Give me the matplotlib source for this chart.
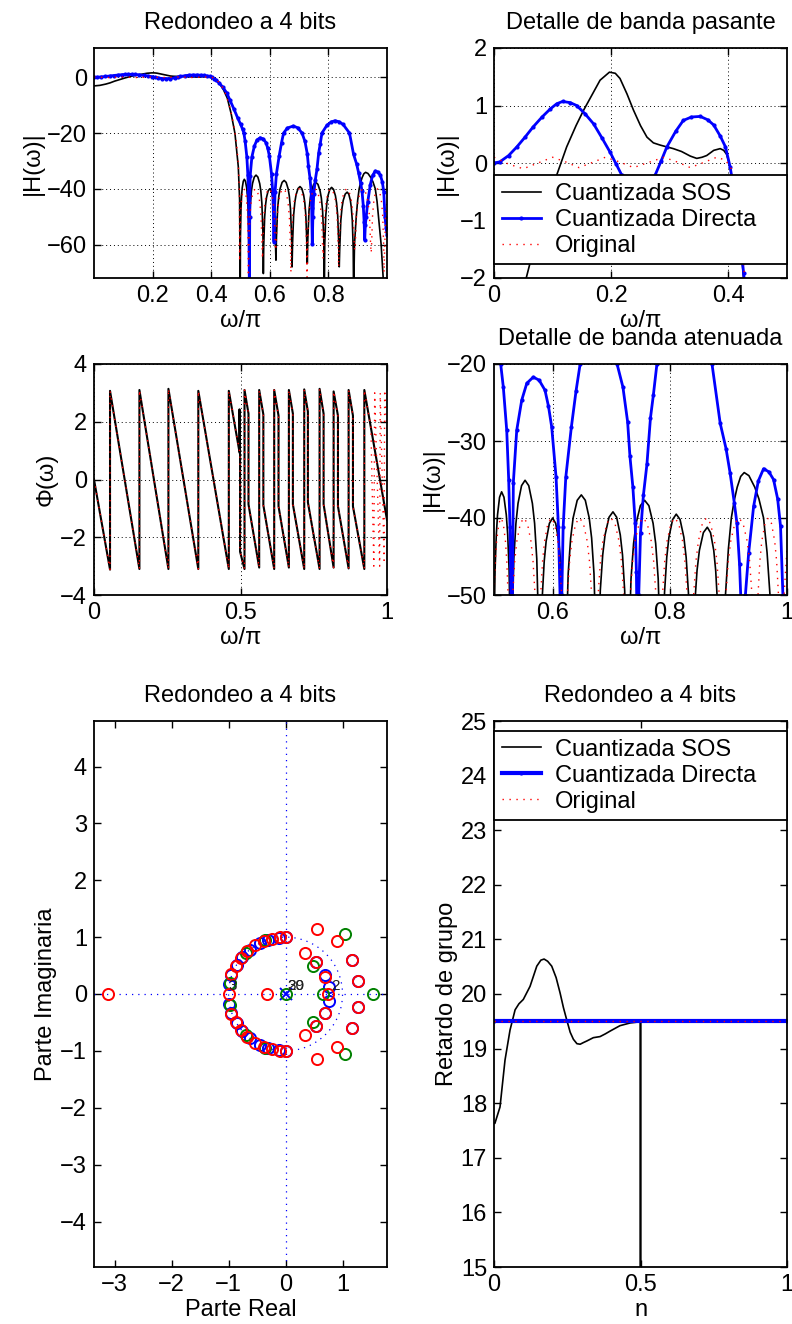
import matplotlib
matplotlib.use('Agg')
import matplotlib.pyplot as plt
from matplotlib.patches import Circle

plt.rcParams['font.family'] = ['Liberation Sans', 'DejaVu Sans']
plt.rcParams['axes.unicode_minus'] = True

FS = 17

# ---------------- data ----------------
LABELS = ['Cuantizada SOS', 'Cuantizada Directa', 'Original']

# magnitude (dB) vs w/pi
MAG_SOS = [(0.000,-3.10),(0.020,-2.90),(0.040,-2.45),(0.055,-2.00),(0.070,-1.40),(0.090,-0.75),
           (0.107,-0.21),(0.124,0.28),(0.140,0.65),(0.153,0.92),(0.168,1.20),(0.181,1.44),(0.197,1.58),
           (0.207,1.56),(0.215,1.47),(0.227,1.20),(0.238,0.92),(0.250,0.65),(0.261,0.45),(0.272,0.35),
           (0.284,0.31),(0.306,0.25),(0.320,0.20),(0.335,0.12),(0.346,0.08),(0.355,0.10),(0.363,0.13),
           (0.375,0.22),(0.386,0.25),(0.392,0.22),(0.397,0.15),(0.403,-0.07),(0.410,-0.50),(0.420,-1.30),
           (0.430,-2.50),(0.442,-4.50),(0.455,-7.50),(0.468,-13.0),(0.481,-20.1),(0.4925,-32.1),(0.497,-44.0),
           (0.499,-80.0),
           (0.4998,-57.1),(0.5018,-46.8),(0.5039,-42.2),(0.506,-39.6),(0.5095,-37.3),(0.513,-36.6),(0.517,-37.3),
           (0.521,-39.6),(0.5234,-42.2),(0.5258,-46.8),(0.528,-57.1),(0.529,-80.0),
           (0.5304,-55.6),(0.5338,-45.3),(0.5374,-40.7),(0.541,-38.1),(0.547,-35.8),(0.553,-35.1),(0.5593,-35.8),
           (0.5655,-38.1),(0.5693,-40.7),(0.573,-45.3),(0.5765,-55.6),(0.578,-70.4),
           (0.5793,-60.5),(0.5824,-50.2),(0.5857,-45.6),(0.589,-43.0),(0.5945,-40.7),(0.600,-40.0),(0.6053,-40.7),
           (0.6105,-43.0),(0.6137,-45.6),(0.6168,-50.2),(0.6197,-60.5),(0.621,-65.6),
           (0.6227,-57.5),(0.6266,-47.2),(0.6308,-42.6),(0.635,-40.0),(0.642,-37.7),(0.649,-37.0),(0.6558,-37.7),
           (0.6625,-40.0),(0.6666,-42.6),(0.6706,-47.2),(0.6744,-57.5),(0.676,-68.0),
           (0.6776,-59.7),(0.6814,-49.4),(0.6855,-44.8),(0.6895,-42.2),(0.6963,-39.9),(0.703,-39.2),(0.7093,-39.9),
           (0.7155,-42.2),(0.7193,-44.8),(0.723,-49.4),(0.7265,-59.7),(0.728,-66.8),
           (0.7297,-58.2),(0.7338,-47.9),(0.7382,-43.3),(0.7425,-40.7),(0.7498,-38.4),(0.757,-37.7),(0.7643,-38.4),
           (0.7715,-40.7),(0.7759,-43.3),(0.7802,-47.9),(0.7843,-58.2),(0.786,-80.0),
           (0.7875,-60.0),(0.791,-49.7),(0.7948,-45.1),(0.7985,-42.5),(0.8048,-40.2),(0.811,-39.5),(0.8175,-40.2),
           (0.824,-42.5),(0.8279,-45.1),(0.8318,-49.7),(0.8354,-60.0),(0.837,-68.0),
           (0.8386,-61.7),(0.8424,-51.4),(0.8465,-46.8),(0.8505,-44.2),(0.8573,-41.9),(0.864,-41.2),(0.8695,-41.9),
           (0.875,-44.2),(0.8783,-46.8),(0.8816,-51.4),(0.8847,-61.7),(0.886,-80.0),
           (0.889,-60.0),(0.895,-50.0),(0.900,-44.0),(0.905,-40.0),(0.910,-37.7),(0.915,-36.0),(0.921,-34.6),
           (0.927,-34.1),(0.935,-34.5),(0.945,-36.0),(0.952,-37.5),(0.960,-40.0),(0.966,-44.5),(0.971,-50.0),
           (0.980,-60.0),(0.987,-72.0),(0.995,-85.0),(1.000,-95.0)]

MAG_DIR = [(0.000,0.00),(0.010,0.02),(0.025,0.13),(0.039,0.28),(0.053,0.45),(0.067,0.63),(0.082,0.80),
           (0.096,0.94),(0.107,1.03),(0.117,1.07),(0.130,1.05),(0.141,1.00),(0.155,0.86),(0.170,0.68),
           (0.184,0.44),(0.198,0.19),(0.208,-0.01),(0.218,-0.21),(0.232,-0.45),(0.246,-0.52),(0.260,-0.45),
           (0.275,-0.21),(0.285,0.03),(0.295,0.28),(0.310,0.55),(0.323,0.74),(0.337,0.80),(0.352,0.81),
           (0.365,0.75),(0.375,0.66),(0.386,0.47),(0.395,0.28),(0.403,-0.07),(0.410,-0.50),(0.418,-1.10),
           (0.426,-1.92),(0.440,-3.60),(0.453,-5.60),(0.464,-8.20),(0.478,-11.5),(0.490,-14.5),(0.500,-16.8),
           (0.507,-18.6),(0.5114,-20.0),(0.5159,-23.0),(0.5217,-28.6),(0.5251,-35.1),(0.5273,-41.2),(0.529,-50.0),
           (0.5303,-80.0),(0.5315,-50.0),(0.533,-35.4),(0.5388,-28.6),(0.5473,-24.7),(0.556,-22.5),(0.567,-21.7),
           (0.577,-22.1),(0.587,-23.4),(0.593,-25.5),(0.5985,-28.2),(0.6059,-34.7),(0.610,-41.2),(0.6127,-50.0),
           (0.6142,-59.0),(0.6157,-50.0),(0.618,-41.2),(0.6225,-34.7),(0.632,-28.2),(0.640,-23.5),(0.647,-20.0),
           (0.660,-18.2),(0.680,-17.5),(0.695,-18.1),(0.710,-20.0),(0.720,-23.0),(0.728,-27.5),(0.732,-32.0),
           (0.737,-36.0),(0.741,-40.7),(0.743,-47.0),(0.745,-59.9),(0.747,-50.0),(0.750,-42.0),(0.755,-37.0),
           (0.761,-33.0),(0.767,-27.0),(0.772,-24.0),(0.778,-20.0),(0.795,-17.2),(0.810,-16.0),(0.822,-15.6),
           (0.835,-15.9),(0.850,-16.9),(0.872,-20.0),(0.886,-27.7),(0.896,-31.0),(0.903,-34.2),(0.910,-38.0),
           (0.9146,-40.7),(0.919,-46.0),(0.922,-52.0),(0.924,-58.4),(0.926,-53.0),(0.929,-50.0),(0.9345,-44.6),
           (0.943,-38.5),(0.951,-35.2),(0.960,-33.6),(0.969,-34.0),(0.977,-35.0),(0.984,-37.5),(0.989,-41.1),
           (0.993,-50.0),(0.997,-54.0),(1.000,-56.4)]

MAG_ORIG = [(0.000,0.10),(0.025,-0.02),(0.050,-0.10),(0.075,0.00),(0.100,0.10),(0.122,0.02),(0.145,-0.08),
            (0.168,0.01),(0.190,0.10),(0.214,0.02),(0.238,-0.08),(0.264,0.01),(0.290,0.10),(0.312,0.02),
            (0.335,-0.08),(0.358,0.01),(0.380,0.10),(0.395,0.05),(0.405,-0.10),(0.415,-0.70),(0.425,-1.60),
            (0.437,-3.30),(0.450,-6.20),(0.463,-10.5),(0.475,-16.0),(0.485,-22.5),(0.492,-30.0),(0.496,-40.0),
            (0.497,-66.0),
            (0.4979,-60.5),(0.4999,-50.2),(0.5023,-45.6),(0.5045,-43.0),(0.5083,-40.7),(0.512,-40.0),(0.5158,-40.7),
            (0.5195,-43.0),(0.5218,-45.6),(0.5241,-50.2),(0.5261,-60.5),(0.527,-75.0),
            (0.5284,-60.5),(0.5318,-50.2),(0.5354,-45.6),(0.539,-43.0),(0.545,-40.7),(0.551,-40.0),(0.557,-40.7),
            (0.563,-43.0),(0.5666,-45.6),(0.5702,-50.2),(0.5736,-60.5),(0.575,-65.0),
            (0.5764,-60.5),(0.5795,-50.2),(0.5829,-45.6),(0.5863,-43.0),(0.5919,-40.7),(0.5975,-40.0),(0.6031,-40.7),
            (0.6088,-43.0),(0.6121,-45.6),(0.6155,-50.2),(0.6186,-60.5),(0.620,-62.0),
            (0.6216,-60.5),(0.6252,-50.2),(0.6291,-45.6),(0.633,-43.0),(0.6395,-40.7),(0.646,-40.0),(0.6525,-40.7),
            (0.659,-43.0),(0.6629,-45.6),(0.6668,-50.2),(0.6704,-60.5),(0.672,-70.0),
            (0.6737,-60.5),(0.6775,-50.2),(0.6816,-45.6),(0.6858,-43.0),(0.6926,-40.7),(0.6995,-40.0),(0.7064,-40.7),
            (0.7133,-43.0),(0.7174,-45.6),(0.7215,-50.2),(0.7254,-60.5),(0.727,-73.0),
            (0.7287,-60.5),(0.7325,-50.2),(0.7366,-45.6),(0.7408,-43.0),(0.7476,-40.7),(0.7545,-40.0),(0.7614,-40.7),
            (0.7683,-43.0),(0.7724,-45.6),(0.7765,-50.2),(0.7804,-60.5),(0.782,-65.0),
            (0.7836,-60.5),(0.7873,-50.2),(0.7913,-45.6),(0.7953,-43.0),(0.8019,-40.7),(0.8085,-40.0),(0.8151,-40.7),
            (0.8218,-43.0),(0.8257,-45.6),(0.8297,-50.2),(0.8334,-60.5),(0.835,-68.0),
            (0.8367,-60.5),(0.8405,-50.2),(0.8446,-45.6),(0.8488,-43.0),(0.8556,-40.7),(0.8625,-40.0),(0.8694,-40.7),
            (0.8763,-43.0),(0.8804,-45.6),(0.8845,-50.2),(0.8884,-60.5),(0.890,-62.0),
            (0.8917,-60.5),(0.8956,-50.2),(0.8998,-45.6),(0.904,-43.0),(0.911,-40.7),(0.918,-40.0),(0.925,-40.7),
            (0.932,-43.0),(0.9362,-45.6),(0.9404,-50.2),(0.9443,-60.5),(0.946,-63.0),
            (0.9473,-60.5),(0.9504,-50.2),(0.9537,-45.6),(0.957,-43.0),(0.9625,-40.7),(0.968,-40.0),(0.9735,-40.7),
            (0.979,-43.0),(0.9823,-45.6),(0.9856,-50.2),(0.9887,-60.5),(0.990,-70.0),
            (0.995,-50.0),(1.000,-44.0)]

# phase (rad) vs w/pi
PHASE_SOS = [(0.000,0.00),(0.0547,-3.12),(0.0547,3.07),(0.155,-3.10),(0.155,3.10),(0.254,-3.10),(0.254,3.14),
             (0.356,-3.10),(0.356,3.07),(0.4601,-3.10),(0.4601,3.07),(0.4966,0.95),(0.4966,2.43),(0.4975,0.92),
             (0.4985,0.88),(0.4985,-2.50),(0.5137,-3.10),(0.5137,3.10),(0.5273,2.28),(0.5273,-0.86),(0.5638,-3.05),
             (0.5638,3.10),(0.578,2.25),(0.578,-0.89),(0.615,-3.10),(0.615,3.10),(0.6298,2.21),(0.6298,-0.93),
             (0.6651,-3.05),(0.6651,3.10),(0.6788,2.28),(0.6788,-0.86),(0.7175,-3.10),(0.7175,3.12),(0.730,2.35),
             (0.730,-0.79),(0.7699,-3.10),(0.7699,3.14),(0.7836,2.28),(0.7836,-0.86),(0.8178,-3.05),(0.8178,3.05),
             (0.8326,2.21),(0.8326,-0.93),(0.869,-3.08),(0.869,3.10),(0.8838,2.21),(0.8838,-0.93),(0.9226,-3.10),
             (0.9226,3.10),(1.000,-1.40)]

PHASE_ORIG = [(0.000,0.00),(0.0547,-3.12),(0.0547,3.07),(0.155,-3.10),(0.155,3.10),(0.254,-3.10),(0.254,3.14),
              (0.356,-3.10),(0.356,3.07),(0.4601,-3.10),(0.4601,3.07),(0.4985,0.88),(0.4985,-2.50),(0.5137,-3.10),
              (0.5137,3.10),(0.5273,2.28),(0.5273,-0.86),(0.5638,-3.05),(0.5638,3.10),(0.578,2.25),(0.578,-0.89),
              (0.615,-3.10),(0.615,3.10),(0.6298,2.21),(0.6298,-0.93),(0.6651,-3.05),(0.6651,3.10),(0.6788,2.28),
              (0.6788,-0.86),(0.7175,-3.10),(0.7175,3.12),(0.730,2.35),(0.730,-0.79),(0.7699,-3.10),(0.7699,3.14),
              (0.7836,2.28),(0.7836,-0.86),(0.8178,-3.05),(0.8178,3.05),(0.8326,2.21),(0.8326,-0.93),(0.869,-3.08),
              (0.869,3.10),(0.8838,2.21),(0.8838,-0.93),(0.9226,-3.10),(0.9226,3.10),(0.945,1.80),(0.955,-3.00),
              (0.958,3.00),(0.975,-3.00),(0.977,3.00),(0.990,-2.80),(0.992,3.10),(1.000,1.70)]

# group delay (samples) vs normalized frequency
GD_SOS = [(0.000,17.63),(0.003,17.63),(0.0205,17.93),(0.0376,18.79),(0.0547,19.34),(0.072,19.71),(0.085,19.82),
          (0.100,19.90),(0.123,20.14),(0.146,20.51),(0.160,20.62),(0.171,20.64),(0.183,20.60),(0.197,20.51),
          (0.212,20.30),(0.2255,20.02),(0.237,19.75),(0.248,19.53),(0.260,19.30),(0.271,19.17),(0.283,19.09),
          (0.294,19.08),(0.305,19.11),(0.317,19.14),(0.339,19.20),(0.362,19.22),(0.380,19.27),(0.396,19.32),
          (0.430,19.42),(0.465,19.47),(0.497,19.49),(0.4995,19.49),(0.4995,-100.0),(0.5005,-100.0),
          (0.5005,19.50),(1.000,19.50)]
GD_DIR = [(0.000,19.50),(1.000,19.50)]
GD_ORIG = [(0.000,19.50),(1.000,19.50)]

# pole-zero plot (real, imag)
Z_BLUE = [(0.00,1.00),(-0.12,0.99),(-0.30,0.95),(-0.45,0.89),(-0.62,0.78),(-0.76,0.65),(-0.86,0.51),(-0.95,0.33),
          (-0.99,0.18),(-0.99,-0.18),(-0.95,-0.33),(-0.86,-0.51),(-0.76,-0.65),(-0.62,-0.78),(-0.45,-0.89),
          (-0.30,-0.95),(-0.12,-0.99),(0.00,-1.00),
          (0.53,0.57),(0.69,0.33),(0.76,0.12),(0.76,-0.12),(0.69,-0.33),(0.53,-0.57),
          (1.16,0.60),(1.16,-0.60),(1.28,0.22),(1.28,-0.22)]
P_BLUE = [(0.0,0.0)]
Z_GREEN = [(1.05,1.06),(1.05,-1.06),(1.535,0.0),(0.475,0.49),(0.475,-0.49),(0.65,0.0),(0.0,0.0),
           (-0.36,0.95),(-0.69,0.72),(-0.97,0.20),(-0.97,-0.20),(-0.69,-0.72),(-0.36,-0.95)]
Z_RED = [(0.00,1.00),(-0.10,1.00),(-0.24,0.97),(-0.37,0.93),(-0.53,0.86),(-0.67,0.75),(-0.78,0.63),(-0.87,0.50),
         (-0.95,0.35),(-1.00,0.00),(-0.95,-0.35),(-0.87,-0.50),(-0.78,-0.63),(-0.67,-0.75),(-0.53,-0.86),
         (-0.37,-0.93),(-0.24,-0.97),(-0.10,-1.00),(0.00,-1.00),
         (-3.12,0.0),(-0.32,0.0),(0.557,1.14),(0.557,-1.14),(0.90,0.93),(0.90,-0.93),(0.35,0.715),(0.35,-0.715),
         (0.533,0.56),(0.533,-0.57),(0.69,0.30),(0.69,-0.33),(0.75,0.0),(1.28,0.22),(1.28,-0.22),
         (1.16,0.60),(1.16,-0.60)]
PZ_TEXT = [(-1.00, 0.14, '3'), (0.80, 0.14, '2'), (0.03, 0.14, '29'), (0.03, 0.14, '30')]


def xs(d):
    return [p[0] for p in d]


def ys(d):
    return [p[1] for p in d]


# ---------------- figure ----------------
W, H = 792, 1324
fig = plt.figure(figsize=(W / 100, H / 100), dpi=100)


def ax_at(l, t, r, b):
    ax = fig.add_axes([l / W, 1 - b / H, (r - l) / W, (b - t) / H])
    ax.tick_params(direction='in', top=True, right=True, length=5, width=1,
                   labelsize=FS, pad=5)
    for s in ax.spines.values():
        s.set_linewidth(1.3)
    return ax


GRID = dict(color='k', linestyle=(0, (1, 3)), linewidth=0.7)


def mag_plot(ax):
    ax.plot(xs(MAG_SOS), ys(MAG_SOS), color='k', lw=1.2, label=LABELS[0])
    ax.plot(xs(MAG_DIR), ys(MAG_DIR), '.-', color='b', lw=2, ms=4, label=LABELS[1])
    ax.plot(xs(MAG_ORIG), ys(MAG_ORIG), color='r', lw=1, linestyle=(0, (1, 4)), label=LABELS[2])


def legend(ax, top):
    leg = ax.legend(loc='upper left', bbox_to_anchor=(0, top, 1, 0), mode='expand',
                    borderaxespad=0, fancybox=False, framealpha=1, edgecolor='k',
                    handlelength=1.65, handletextpad=0.6, labelspacing=0.17,
                    borderpad=0.32, fontsize=FS)
    leg.get_frame().set_linewidth(1.3)


# top-left
ax1 = ax_at(94, 48, 387, 278)
mag_plot(ax1)
ax1.set_xlim(0, 1)
ax1.set_ylim(-72, 10.5)
ax1.set_xticks([0.2, 0.4, 0.6, 0.8], ['0.2', '0.4', '0.6', '0.8'])
ax1.set_yticks([-60, -40, -20, 0], ['\u221260', '\u221240', '\u221220', '0'])
ax1.grid(True, **GRID)
ax1.set_title('Redondeo a 4 bits', fontsize=FS, pad=14)
ax1.set_xlabel('\u03c9/\u03c0', fontsize=FS, labelpad=2)
ax1.set_ylabel('|H(\u03c9)|', fontsize=FS, labelpad=2)

# top-right
ax2 = ax_at(494, 48, 787, 278)
mag_plot(ax2)
ax2.set_xlim(0, 0.5)
ax2.set_ylim(-2, 2)
ax2.set_xticks([0, 0.2, 0.4], ['0', '0.2', '0.4'])
ax2.set_yticks([-2, -1, 0, 1, 2], ['\u22122', '\u22121', '0', '1', '2'])
ax2.grid(True, **GRID)
ax2.set_title('Detalle de banda pasante', fontsize=FS, pad=14)
ax2.set_xlabel('\u03c9/\u03c0', fontsize=FS, labelpad=2)
ax2.set_ylabel('|H(\u03c9)|', fontsize=FS, labelpad=2)
legend(ax2, 0.4465)

# middle-left
ax3 = ax_at(94, 364, 387, 595)
ax3.plot(xs(PHASE_SOS), ys(PHASE_SOS), color='k', lw=1.5)
ax3.plot(xs(PHASE_ORIG), ys(PHASE_ORIG), color='r', lw=1, linestyle=(0, (1, 4)))
ax3.set_xlim(0, 1)
ax3.set_ylim(-4, 4)
ax3.set_xticks([0, 0.5, 1], ['0', '0.5', '1'])
ax3.set_yticks([-4, -2, 0, 2, 4], ['\u22124', '\u22122', '0', '2', '4'])
ax3.grid(True, **GRID)
ax3.set_xlabel('\u03c9/\u03c0', fontsize=FS, labelpad=2)
ax3.set_ylabel('\u03a6(\u03c9)', fontsize=FS, labelpad=2)

# middle-right
ax4 = ax_at(494, 364, 787, 595)
mag_plot(ax4)
ax4.set_xlim(0.5, 1)
ax4.set_ylim(-50, -20)
ax4.set_xticks([0.6, 0.8, 1], ['0.6', '0.8', '1'])
ax4.set_yticks([-50, -40, -30, -20], ['\u221250', '\u221240', '\u221230', '\u221220'])
ax4.grid(True, **GRID)
ax4.set_title('Detalle de banda atenuada', fontsize=FS, pad=14)
ax4.set_xlabel('\u03c9/\u03c0', fontsize=FS, labelpad=2)
ax4.set_ylabel('|H(\u03c9)|', fontsize=FS, labelpad=2)

# bottom-left: pole-zero
ax5 = ax_at(94, 721, 387, 1267)
ax5.set_xlim(-3.36, 1.78)
ax5.set_ylim(-4.8, 4.8)
DOT = dict(color='b', linestyle=(0, (1, 4)), lw=0.9)
ax5.axhline(0, **DOT)
ax5.axvline(0, **DOT)
ax5.add_patch(Circle((0, 0), 1.0, fill=False, edgecolor='b', linestyle=(0, (1, 4)), lw=0.9))
MK = dict(linestyle='none', marker='o', ms=8, mew=1.4, mfc='none')
ax5.plot(xs(Z_BLUE), ys(Z_BLUE), mec='b', **MK)
ax5.plot(xs(P_BLUE), ys(P_BLUE), linestyle='none', marker='x', ms=8, mew=1.4, color='b')
ax5.plot(xs(Z_GREEN), ys(Z_GREEN), mec=(0, 0.5, 0), **MK)
ax5.plot(xs(Z_RED), ys(Z_RED), mec='r', **MK)
for tx, ty, tt in PZ_TEXT:
    ax5.text(tx, ty, tt, fontsize=11, ha='left', va='center', color='#222222')
ax5.set_xticks([-3, -2, -1, 0, 1], ['\u22123', '\u22122', '\u22121', '0', '1'])
ax5.set_yticks([-4, -3, -2, -1, 0, 1, 2, 3, 4],
               ['\u22124', '\u22123', '\u22122', '\u22121', '0', '1', '2', '3', '4'])
ax5.set_title('Redondeo a 4 bits', fontsize=FS, pad=14)
ax5.set_xlabel('Parte Real', fontsize=FS, labelpad=2)
ax5.set_ylabel('Parte Imaginaria', fontsize=FS, labelpad=2)

# bottom-right: group delay
ax6 = ax_at(494, 721, 787, 1267)
ax6.plot(xs(GD_SOS), ys(GD_SOS), color='k', lw=1.2, label=LABELS[0])
ax6.plot(xs(GD_DIR), ys(GD_DIR), '.-', color='b', lw=3, ms=4, label=LABELS[1])
ax6.plot(xs(GD_ORIG), ys(GD_ORIG), color='r', lw=1, linestyle=(0, (1, 4)), label=LABELS[2])
ax6.set_xlim(0, 1)
ax6.set_ylim(15, 25)
ax6.set_xticks([0, 0.5, 1], ['0', '0.5', '1'])
ax6.set_yticks(list(range(15, 26)), [str(v) for v in range(15, 26)])
ax6.set_title('Redondeo a 4 bits', fontsize=FS, pad=14)
ax6.set_xlabel('n', fontsize=FS, labelpad=2)
ax6.set_ylabel('Retardo de grupo', fontsize=FS, labelpad=2)
legend(ax6, 0.9817)

fig.savefig('out.png', dpi=100)
